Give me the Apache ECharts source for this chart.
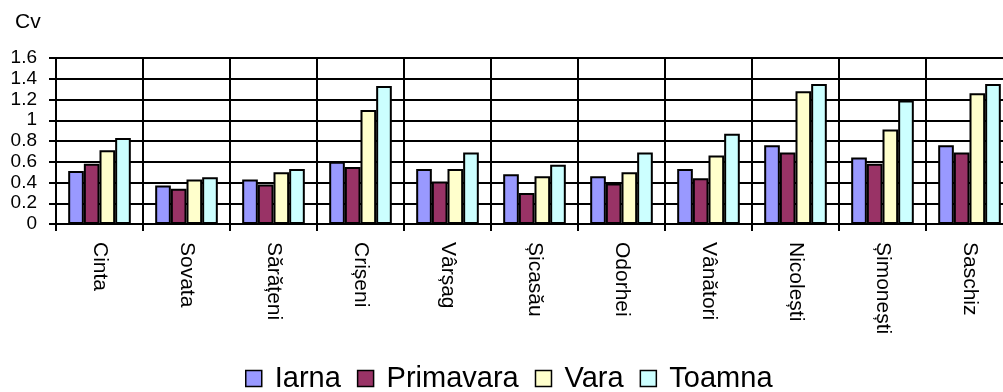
<!DOCTYPE html>
<html>
<head>
<meta charset="utf-8">
<script src="https://cdn.jsdelivr.net/npm/echarts@6/dist/echarts.min.js"></script>
<style>
  html, body { margin: 0; padding: 0; background: #fff; }
  #chart { width: 1003px; height: 392px; }
</style>
</head>
<body>
<div id="chart"></div>
<script>
// Coefficient of variation (Cv) per station and season
const stations = ['Cinta', 'Sovata', 'Sărățeni', 'Crișeni', 'Vârșag', 'Șicasău', 'Odorhei', 'Vânători', 'Nicolești', 'Șimonești', 'Saschiz'];
const seasonNames = ['Iarna', 'Primavara', 'Vara', 'Toamna'];
const iarna     = [0.51, 0.37, 0.43, 0.60, 0.53, 0.48, 0.46, 0.53, 0.76, 0.64, 0.76];
const primavara = [0.58, 0.34, 0.38, 0.55, 0.41, 0.30, 0.39, 0.44, 0.69, 0.58, 0.69];
const vara      = [0.71, 0.43, 0.50, 1.10, 0.53, 0.46, 0.50, 0.66, 1.28, 0.91, 1.26];
const toamna    = [0.83, 0.45, 0.53, 1.33, 0.69, 0.57, 0.69, 0.87, 1.35, 1.19, 1.35];
const seasonColors = ['#9999FF', '#993366', '#FFFFCC', '#CCFFFF'];

const FONT = '"Liberation Sans", Arial, sans-serif';
const seriesValues = [iarna, primavara, vara, toamna];

const chart = echarts.init(document.getElementById('chart'), null, { renderer: 'canvas' });
chart.setOption({
  animation: false,
  backgroundColor: '#fff',
  title: {
    text: 'Cv',
    left: 10,
    top: 7,
    textStyle: { fontFamily: FONT, fontSize: 21, fontWeight: 'normal', color: '#000' }
  },
  legend: {
    data: seasonNames,
    left: 240,
    top: 359,
    icon: 'rect',
    itemWidth: 16,
    itemHeight: 16,
    itemGap: 16,
    itemStyle: { borderColor: '#000', borderWidth: 1.5 },
    textStyle: { fontFamily: FONT, fontSize: 29, color: '#000', padding: [0, 0, 0, 8] }
  },
  // the plot runs past the right edge of the canvas, so the last column is cut
  grid: { left: 56, width: 957, top: 58, bottom: 168, containLabel: false, outerBoundsMode: 'none' },
  xAxis: {
    type: 'category',
    data: stations,
    axisLine: { show: true, lineStyle: { color: '#000', width: 2 } },
    axisTick: { show: true, length: 7, lineStyle: { color: '#000', width: 2 } },
    splitLine: { show: true, interval: 0, lineStyle: { color: '#000', width: 2 } },
    axisLabel: {
      interval: 0,
      rotate: -90,
      margin: 18,
      fontFamily: FONT,
      fontSize: 21,
      color: '#000'
    }
  },
  yAxis: {
    type: 'value',
    min: 0,
    max: 1.6,
    interval: 0.2,
    axisLine: { show: true, lineStyle: { color: '#000', width: 2 } },
    axisTick: { show: true, length: 7, lineStyle: { color: '#000', width: 2 } },
    splitLine: { show: true, lineStyle: { color: '#000', width: 2 } },
    axisLabel: {
      margin: 19,
      fontFamily: FONT,
      fontSize: 19,
      color: '#000'
    }
  },
  series: seasonNames.map((name, i) => ({
    name: name,
    type: 'bar',
    data: seriesValues[i],
    barGap: '0%',
    barCategoryGap: '28%',
    itemStyle: { color: seasonColors[i], borderColor: '#000', borderWidth: 2 }
  }))
});
</script>
</body>
</html>
